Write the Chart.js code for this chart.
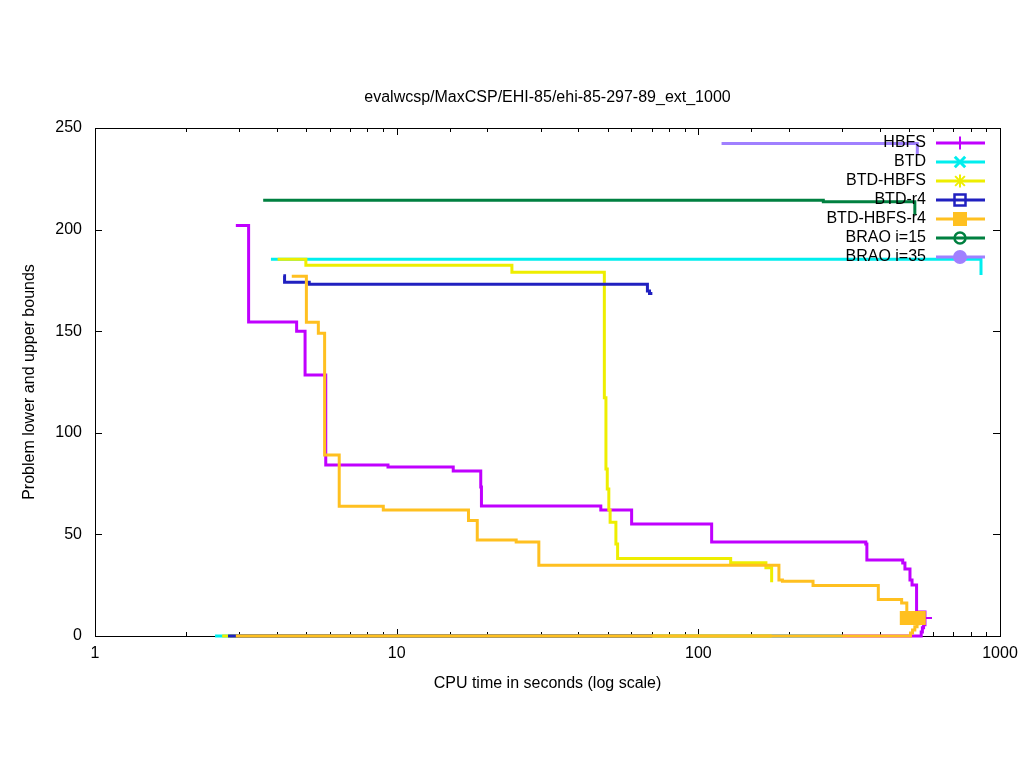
<!DOCTYPE html>
<html>
<head>
<meta charset="utf-8">
<script src="https://cdn.jsdelivr.net/npm/chart.js@4.4.0/dist/chart.umd.min.js"></script>
<style>
  html, body { margin: 0; padding: 0; background: #fff; }
</style>
</head>
<body>
<canvas id="boundsChart" width="1024" height="768"></canvas>
<script>
const chartTitle = "evalwcsp/MaxCSP/EHI-85/ehi-85-297-89_ext_1000";
const solvers = ["HBFS", "BTD", "BTD-HBFS", "BTD-r4", "BTD-HBFS-r4", "BRAO i=15", "BRAO i=35"];
const solverColors = ["#c000ff", "#00eeee", "#eeee00", "#2020c0", "#ffc020", "#008040", "#a080ff"];
const solverMarkers = ["cross", "crossRot", "star", "rectOpen", "rect", "circleDot", "circle"];
const xTickLabels = [1, 10, 100, 1000];
const yTickValues = [0, 50, 100, 150, 200, 250];

// upper bounds (time in seconds, cost)
const hbfsUpperTime = [2.93, 3.23, 4.66, 4.97, 5.82, 9.36, 15.4, 19.0, 19.1, 47.5, 60.1, 110.7, 359, 362, 476, 484, 503, 511, 529, 564];
const hbfsUpperCost = [202, 154.5, 150, 128.4, 84.1, 83.2, 81.2, 73.3, 64, 62, 55.1, 46.3, 45.3, 37.4, 35.9, 33, 27.6, 25.1, 11.8, 8.9];
const btdUpperTime = [3.83, 865];
const btdUpperCost = [185.4, 177.6];
const btdHbfsUpperTime = [4.03, 5.0, 24.1, 48.8, 49.4, 49.9, 50.5, 51.0, 53.3, 54.0, 128, 167.5, 175];
const btdHbfsUpperCost = [185.4, 182.4, 179, 117.3, 82.2, 72.3, 62, 56, 45.3, 38.2, 36.1, 33.6, 26.4];
const btdR4UpperTime = [4.21, 4.25, 5.13, 67.8, 68.9, 70.4];
const btdR4UpperCost = [177.3, 174.1, 173.1, 169.8, 168.6, 168.6];
const btdHbfsR4UpperTime = [4.49, 5.02, 5.5, 5.77, 6.45, 9.03, 17.3, 18.5, 24.9, 29.6, 185, 190, 240, 395, 472, 491];
const btdHbfsR4UpperCost = [177, 154.4, 149, 89.1, 63.8, 62, 56.9, 47.2, 46.3, 34.8, 27.6, 27, 24.9, 18, 16.2, 8.9];
const brao15UpperTime = [3.61, 259.6, 522];
const brao15UpperCost = [214.4, 213.7, 207.2];
const brao35UpperTime = [119.4, 532];
const brao35UpperCost = [242.4, 236.7];

// lower bounds
const hbfsLowerTime = [2.8, 540, 548, 553, 558, 564];
const hbfsLowerCost = [0, 0, 2, 4, 5.5, 8.9];
const btdLowerTime = [2.5, 300];
const btdLowerCost = [0, 0];
const btdHbfsLowerTime = [2.64, 175];
const btdHbfsLowerCost = [0, 0];
const btdR4LowerTime = [2.76, 70.4];
const btdR4LowerCost = [0, 0];
const btdHbfsR4LowerTime = [2.93, 495, 505, 513, 522, 531, 538];
const btdHbfsR4LowerCost = [0, 0, 1.5, 3, 4.5, 6, 8.9];

const upperSeries = [
  [hbfsUpperTime, hbfsUpperCost],
  [btdUpperTime, btdUpperCost],
  [btdHbfsUpperTime, btdHbfsUpperCost],
  [btdR4UpperTime, btdR4UpperCost],
  [btdHbfsR4UpperTime, btdHbfsR4UpperCost],
  [brao15UpperTime, brao15UpperCost],
  [brao35UpperTime, brao35UpperCost],
];
const lowerSeries = [
  [hbfsLowerTime, hbfsLowerCost],
  [btdLowerTime, btdLowerCost],
  [btdHbfsLowerTime, btdHbfsLowerCost],
  [btdR4LowerTime, btdR4LowerCost],
  [btdHbfsR4LowerTime, btdHbfsR4LowerCost],
  null,
  null,
];
// only these solvers show a mark where their bounds end
const endMarked = [true, false, false, false, true, false, false];

function toPoints(times, costs) {
  return times.map((t, i) => ({ x: t, y: costs[i] }));
}

function makeDataset(pair, idx, lower) {
  const pts = toPoints(pair[0], pair[1]);
  const last = pts.length - 1;
  return {
    label: lower ? solvers[idx] + " (lower)" : solvers[idx],
    data: pts,
    borderColor: solverColors[idx],
    backgroundColor: solverColors[idx],
    borderWidth: 3,
    stepped: true,
    fill: false,
    clip: 10,
    pointStyle: solverMarkers[idx] === "cross" ? "cross" : "rect",
    pointRadius: ctx => (endMarked[idx] && ctx.dataIndex === last) ? (idx === 0 ? 7 : 8.5) : 0,
    pointHoverRadius: 0,
    pointBorderWidth: 2,
  };
}

const datasets = [];
solvers.forEach((name, i) => {
  datasets.push(makeDataset(upperSeries[i], i, false));
  if (lowerSeries[i]) datasets.push(makeDataset(lowerSeries[i], i, true));
});
// gnuplot style: later curves are painted over earlier ones
datasets.forEach((ds, i) => { ds.order = datasets.length - i; });

const FONT = "'Liberation Sans', Arial, sans-serif";
const FONT_SIZE = 16;

function drawMarker(ctx, kind, x, y, color) {
  ctx.save();
  ctx.strokeStyle = color;
  ctx.fillStyle = color;
  ctx.lineWidth = 2;
  const r = 6.5;
  ctx.beginPath();
  if (kind === "cross") {
    ctx.moveTo(x - r, y); ctx.lineTo(x + r, y);
    ctx.moveTo(x, y - r); ctx.lineTo(x, y + r);
    ctx.stroke();
  } else if (kind === "crossRot") {
    const d = r * 0.8;
    ctx.lineWidth = 3;
    ctx.moveTo(x - d, y - d); ctx.lineTo(x + d, y + d);
    ctx.moveTo(x - d, y + d); ctx.lineTo(x + d, y - d);
    ctx.stroke();
  } else if (kind === "star") {
    const d = r * 0.75;
    ctx.moveTo(x - r, y); ctx.lineTo(x + r, y);
    ctx.moveTo(x, y - r); ctx.lineTo(x, y + r);
    ctx.moveTo(x - d, y - d); ctx.lineTo(x + d, y + d);
    ctx.moveTo(x - d, y + d); ctx.lineTo(x + d, y - d);
    ctx.stroke();
  } else if (kind === "rectOpen") {
    ctx.lineWidth = 2.5;
    ctx.strokeRect(x - 5.5, y - 5.5, 11, 11);
  } else if (kind === "rect") {
    ctx.fillRect(x - 7, y - 7, 14, 14);
  } else if (kind === "circleDot") {
    ctx.lineWidth = 2.5;
    ctx.arc(x, y, 5.5, 0, Math.PI * 2);
    ctx.stroke();
    ctx.beginPath();
    ctx.fillRect(x - 2, y - 1, 4, 2);
  } else if (kind === "circle") {
    ctx.arc(x, y, 7, 0, Math.PI * 2);
    ctx.fill();
  }
  ctx.restore();
}

const gnuplotFrame = {
  id: "gnuplotFrame",
  beforeDatasetsDraw(chart) {
    const { ctx, chartArea: a, scales } = chart;
    ctx.save();
    ctx.strokeStyle = "#000";
    ctx.lineWidth = 1;
    ctx.strokeRect(Math.round(a.left) + 0.5, Math.round(a.top) + 0.5,
      Math.round(a.right - a.left), Math.round(a.bottom - a.top));
    ctx.beginPath();
    scales.x.ticks.forEach(t => {
      const px = Math.round(scales.x.getPixelForValue(t.value)) + 0.5;
      const len = xTickLabels.includes(t.value) ? 7 : 4;
      ctx.moveTo(px, a.bottom); ctx.lineTo(px, a.bottom - len);
      ctx.moveTo(px, a.top); ctx.lineTo(px, a.top + len);
    });
    yTickValues.forEach(v => {
      const py = Math.round(scales.y.getPixelForValue(v)) + 0.5;
      ctx.moveTo(a.left, py); ctx.lineTo(a.left + 7, py);
      ctx.moveTo(a.right, py); ctx.lineTo(a.right - 7, py);
    });
    ctx.stroke();
    ctx.fillStyle = "#000";
    ctx.font = FONT_SIZE + "px " + FONT;
    ctx.textAlign = "center";
    ctx.textBaseline = "middle";
    ctx.fillText(chartTitle, (a.left + a.right) / 2, 98);
    ctx.restore();
  },
  afterDatasetsDraw(chart) {
    const { ctx, chartArea: a } = chart;
    ctx.save();
    ctx.font = FONT_SIZE + "px " + FONT;
    ctx.textAlign = "right";
    ctx.textBaseline = "middle";
    solvers.forEach((name, i) => {
      const y = a.top + 15 + i * 19;
      ctx.fillStyle = "#000";
      ctx.fillText(name, a.right - 74, y);
      ctx.strokeStyle = solverColors[i];
      ctx.lineWidth = 3;
      ctx.beginPath();
      ctx.moveTo(a.right - 64, y);
      ctx.lineTo(a.right - 15, y);
      ctx.stroke();
      drawMarker(ctx, solverMarkers[i], a.right - 40, y, solverColors[i]);
    });
    ctx.restore();
  }
};

new Chart(document.getElementById("boundsChart"), {
  type: "line",
  data: { datasets: datasets },
  plugins: [gnuplotFrame],
  options: {
    responsive: false,
    animation: false,
    devicePixelRatio: 1,
    layout: { padding: { top: 128, right: 24, bottom: 0, left: 0 } },
    plugins: {
      legend: { display: false },
      title: { display: false },
      tooltip: { enabled: false },
    },
    scales: {
      x: {
        type: "logarithmic",
        min: 1,
        max: 1000,
        grid: { display: false, drawTicks: false },
        border: { display: false },
        ticks: {
          autoSkip: false,
          maxRotation: 0,
          padding: 8,
          color: "#000",
          font: { family: FONT, size: FONT_SIZE },
          callback: v => xTickLabels.includes(v) ? String(v) : "",
        },
        title: {
          display: true,
          text: "CPU time in seconds (log scale)",
          color: "#000",
          font: { family: FONT, size: FONT_SIZE },
          padding: { top: 0, bottom: 75 },
        },
        afterFit: s => { s.height = 132; s.paddingLeft = 0; s.paddingRight = 0; },
      },
      y: {
        min: 0,
        max: 250,
        grid: { display: false, drawTicks: false },
        border: { display: false },
        ticks: {
          stepSize: 50,
          padding: 13,
          color: "#000",
          font: { family: FONT, size: FONT_SIZE },
        },
        title: {
          display: true,
          text: "Problem lower and upper bounds",
          color: "#000",
          font: { family: FONT, size: FONT_SIZE },
          padding: { top: 20, bottom: 0 },
        },
        afterFit: s => { s.width = 95; s.paddingTop = 0; s.paddingBottom = 0; },
      },
    },
  },
});
</script>
</body>
</html>
